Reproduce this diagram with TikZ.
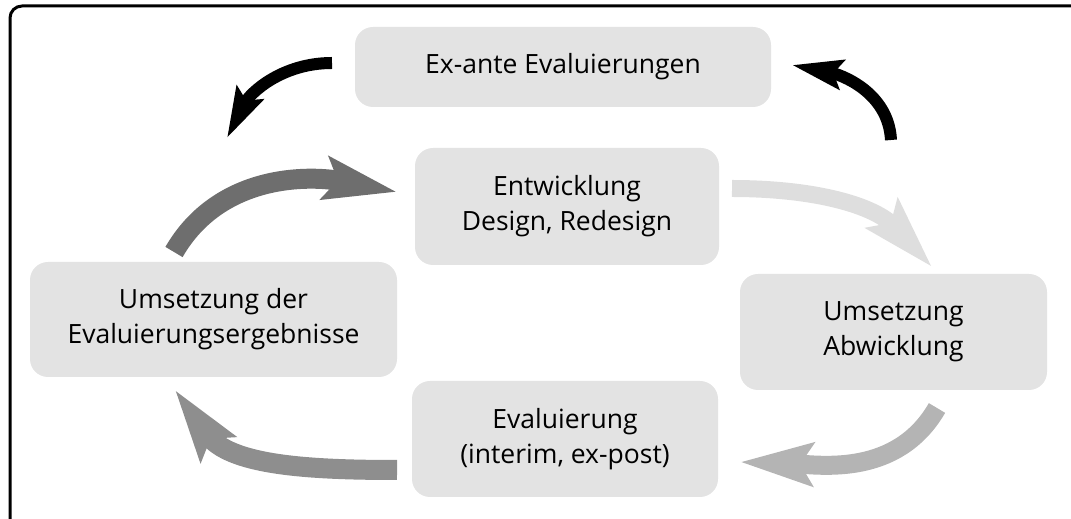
\documentclass[tikz,border=0pt]{standalone}
\usepackage{fontspec}
\setmainfont{Open Sans}
\usetikzlibrary{arrows.meta, positioning}

\definecolor{boxgray}{HTML}{E3E3E3}
\definecolor{darkarrow}{HTML}{6E6E6E}
\definecolor{midarrow}{HTML}{8E8E8E}
\definecolor{softarrow}{HTML}{B4B4B4}
\definecolor{lightarrow}{HTML}{DEDEDE}

\tikzset{
    phase/.style={rectangle, rounded corners=18pt, fill=boxgray, align=center,
        inner sep=0pt, font=\fontsize{26.5}{35}\selectfont},
    cyclearrow/.style={line width=#1, -{Stealth[length=72pt, width=42pt, inset=12pt]}},
    evalarrow/.style={line width=12pt, -{Stealth[length=50pt, width=29pt, inset=8pt]}},
}

\begin{document}
\begin{tikzpicture}[x=1pt, y=1pt]
        \useasboundingbox (0,0) rectangle (1071,519);
        \draw[line width=3pt, rounded corners=12pt] (10,-2) -- (10,513) -- (1071,513); % frame

        \node[phase, minimum width=416pt, minimum height=80pt] (exante) at (563, 452) {Ex-ante Evaluierungen};
        \node[phase, minimum width=304pt, minimum height=117pt] (entw) at (567, 312.5) {Entwicklung\\Design, Redesign};
        \node[phase, minimum width=367pt, minimum height=115pt] (ergeb) at (213.5, 199.5) {Umsetzung der\\Evaluierungsergebnisse};
        \node[phase, minimum width=307pt, minimum height=116pt] (abw) at (893.5, 187) {Umsetzung\\Abwicklung};
        \node[phase, minimum width=306pt, minimum height=116pt] (eval) at (565, 80) {Evaluierung\\(interim, ex-post)};

        % free ends of the arrows
        \coordinate (a1s) at (332, 456);   \coordinate (a1e) at (227, 381);
        \coordinate (a2s) at (891, 379);   \coordinate (a2e) at (792, 454);
        \coordinate (a3s) at (174, 267);   \coordinate (a3e) at (397, 327);
        \coordinate (a4s) at (732, 330.5); \coordinate (a4e) at (932, 252);
        \coordinate (a5s) at (937, 111);   \coordinate (a5e) at (740, 57);
        \coordinate (a6s) at (397, 49);    \coordinate (a6e) at (175, 129);

        \draw[evalarrow] (a1s) to[out=180, in=63] (a1e);
        \draw[evalarrow] (a2s) to[out=93, in=-11] (a2e);
        \draw[cyclearrow=20pt, darkarrow] (a3s) to[out=60, in=169] (a3e);
        \draw[cyclearrow=17pt, lightarrow] (a4s) to[out=0, in=133] (a4e);
        \draw[cyclearrow=19pt, softarrow] (a5s) to[out=-120, in=-2] (a5e);
        \draw[cyclearrow=20pt, midarrow] (a6s) to[out=180, in=306] (a6e);
\end{tikzpicture}
\end{document}
